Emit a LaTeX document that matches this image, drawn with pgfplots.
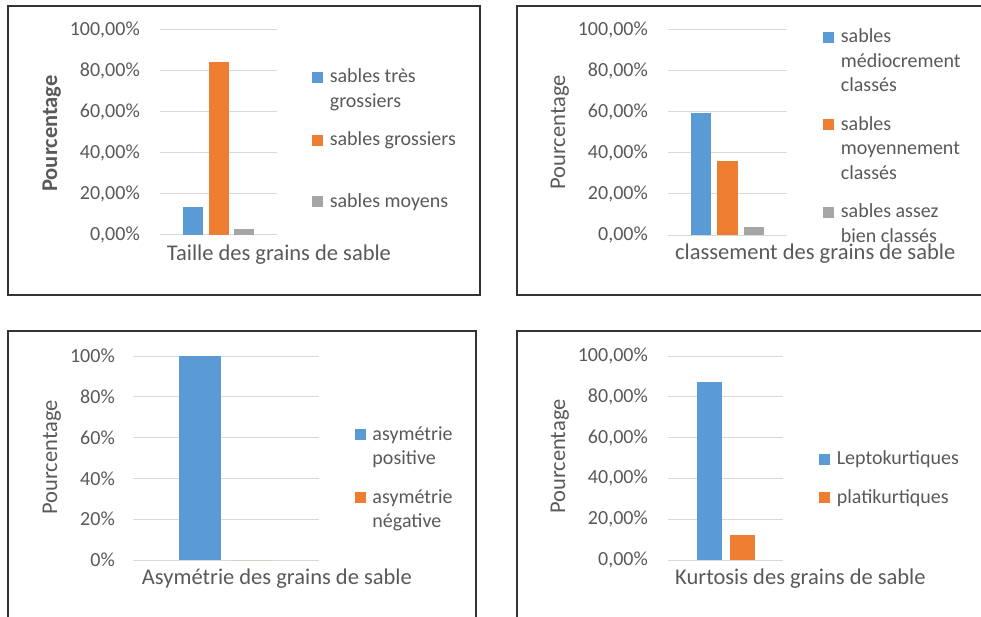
\documentclass[border=0pt]{standalone}
\usepackage{fontspec}
\setmainfont{Carlito}
\usepackage{pgfplots}
\pgfplotsset{compat=1.18}

\definecolor{xblue}{HTML}{5B9BD5}
\definecolor{xorange}{HTML}{ED7D31}
\definecolor{xgray}{HTML}{A5A5A5}
\definecolor{txt}{HTML}{595959}
\definecolor{gridc}{HTML}{D9D9D9}
\definecolor{framec}{HTML}{333333}

% struts: line rows and first rows of later entries
\newcommand\LA{\rule[-7pt]{0pt}{26pt}}
\newcommand\LB{\rule[-7pt]{0pt}{40pt}}
\newcommand\LC{\rule[-7pt]{0pt}{63pt}}

\pgfplotsset{
  panel/.style={
    scale only axis, anchor=south west,
    ybar, xmin=-1, xmax=1, ymin=0, ymax=100, enlargelimits=false,
    xtick=\empty, ytick={0,20,...,100},
    axis line style={draw=none}, major tick length=0pt,
    ymajorgrids, major grid style={draw=gridc, line width=1pt},
    tick label style={font=\fontsize{20pt}{24pt}\selectfont, text=txt},
    yticklabel style={inner sep=0pt, anchor=east, xshift=-20pt},
    label style={font=\fontsize{22.5pt}{27pt}\selectfont, text=txt, inner sep=0pt},
    xlabel style={anchor=base west},
    ylabel style={anchor=base},
    legend image code/.code={\fill[##1] (0pt,0pt) rectangle (11pt,11pt);},
    legend cell align=left,
    legend style={draw=none, fill=none, inner sep=0pt, outer sep=0pt,
      row sep=0pt, column sep=4.5pt, anchor=north west,
      cells={anchor=base west, inner sep=0pt},
      font=\fontsize{20pt}{24pt}\selectfont, text=txt},
  },
  pct/.style={yticklabels={{0,00\%},{20,00\%},{40,00\%},{60,00\%},{80,00\%},{100,00\%}}},
}

\begin{document}
\begin{tikzpicture}
\useasboundingbox (0,0) rectangle (981pt,-617pt);
\begin{scope}
\clip (0,0) rectangle (981pt,-617pt);
\draw[framec, line width=2pt] (7.5pt,-6pt) rectangle (479.5pt,-294.5pt);
\draw[framec, line width=2pt] (516.5pt,-6pt) rectangle (990pt,-294.5pt);
\draw[framec, line width=2pt] (7.5pt,-331pt) rectangle (476pt,-630pt);
\draw[framec, line width=2pt] (516.5pt,-331pt) rectangle (990pt,-630pt);
\end{scope}

% taille
\begin{axis}[panel, pct, at={(160pt,-235pt)}, width=117pt, height=205pt,
  bar width=20pt,
  xlabel={Taille des grains de sable},
  xlabel style={at={(axis description cs:0.057,-0.122)}},
  ylabel={\bfseries Pourcentage},
  ylabel style={at={(axis description cs:-0.880,0.495)}},
  legend style={at={(axis description cs:1.302,0.844)}}]
\addplot[fill=xblue, draw=none, bar shift=-25.75pt] coordinates {(0,13.7)};
\addlegendentry{sables très\LA}
\addlegendimage{empty legend}
\addlegendentry{grossiers\LA}
\addplot[fill=xorange, draw=none, bar shift=0pt] coordinates {(0,84.4)};
\addlegendentry{sables grossiers\LB}
\addplot[fill=xgray, draw=none, bar shift=25.75pt] coordinates {(0,2.9)};
\addlegendentry{sables moyens\LC}
\end{axis}

% classement
\begin{axis}[panel, pct, at={(668pt,-235pt)}, width=118.5pt, height=205pt,
  bar width=20.5pt,
  xlabel={classement des grains de sable},
  xlabel style={at={(axis description cs:0.059,-0.1185)}},
  ylabel={Pourcentage},
  ylabel style={at={(axis description cs:-0.869,0.5)}},
  legend style={at={(axis description cs:1.311,1.0398)}}]
\addplot[fill=xblue, draw=none, bar shift=-26.5pt] coordinates {(0,59.5)};
\addlegendentry{sables\LA}
\addlegendimage{empty legend}
\addlegendentry{médiocrement\LA}
\addlegendimage{empty legend}
\addlegendentry{classés\LA}
\addplot[fill=xorange, draw=none, bar shift=0pt] coordinates {(0,36.1)};
\addlegendentry{sables\LB}
\addlegendimage{empty legend}
\addlegendentry{moyennement\LA}
\addlegendimage{empty legend}
\addlegendentry{classés\LA}
\addplot[fill=xgray, draw=none, bar shift=26.5pt] coordinates {(0,3.9)};
\addlegendentry{sables assez\LB}
\addlegendimage{empty legend}
\addlegendentry{bien classés\LA}
\end{axis}

% asymetrie
\begin{axis}[panel, at={(133pt,-560pt)}, width=186pt, height=204pt,
  bar width=42pt,
  yticklabels={0\%,20\%,40\%,60\%,80\%,100\%},
  yticklabel style={xshift=2pt},
  xlabel={Asymétrie des grains de sable},
  xlabel style={at={(axis description cs:0.047,-0.1225)}},
  ylabel={Pourcentage},
  ylabel style={at={(axis description cs:-0.4086,0.5025)}},
  legend style={at={(axis description cs:1.1935,0.6898)}}]
\addplot[fill=xblue, draw=none, bar shift=-26pt] coordinates {(0,100)};
\addlegendentry{asymétrie\LA}
\addlegendimage{empty legend}
\addlegendentry{positive\LA}
\addplot[fill=xorange, draw=none, bar shift=26pt] coordinates {(0,0)};
\addlegendentry{asymétrie\LB}
\addlegendimage{empty legend}
\addlegendentry{négative\LA}
\end{axis}

% kurtosis
\begin{axis}[panel, pct, at={(668pt,-560pt)}, width=115pt, height=204pt,
  bar width=25pt,
  xlabel={Kurtosis des grains de sable},
  xlabel style={at={(axis description cs:0.061,-0.1225)}},
  ylabel={Pourcentage},
  ylabel style={at={(axis description cs:-0.8957,0.507)}},
  legend style={at={(axis description cs:1.3157,0.5700)}}]
\addplot[fill=xblue, draw=none, bar shift=-16.5pt] coordinates {(0,87.5)};
\addlegendentry{Leptokurtiques\LA}
\addplot[fill=xorange, draw=none, bar shift=16.5pt] coordinates {(0,12.5)};
\addlegendentry{platikurtiques\LB}
\end{axis}
\end{tikzpicture}
\end{document}
